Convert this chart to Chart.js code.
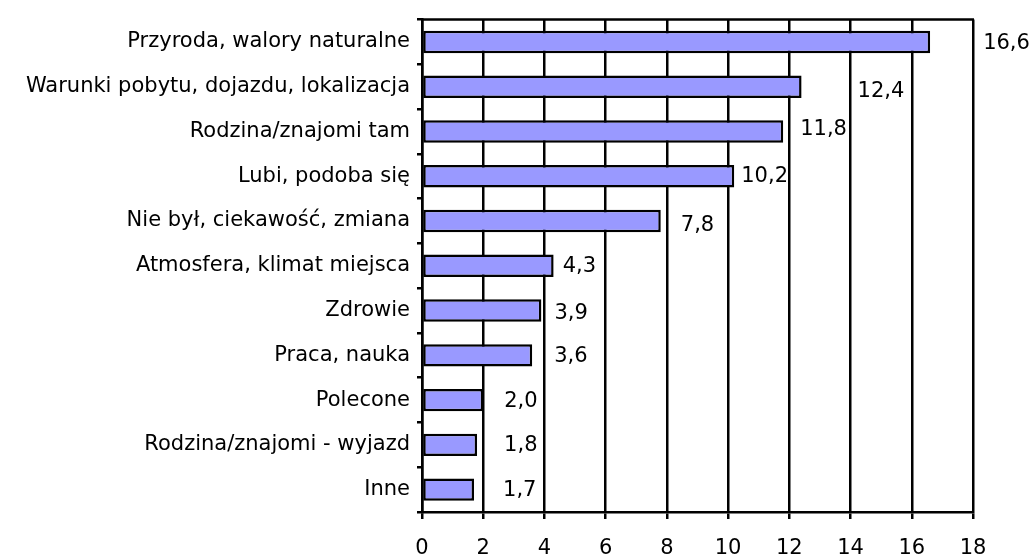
<!DOCTYPE html>
<html>
<head>
<meta charset="utf-8">
<script src="https://cdn.jsdelivr.net/npm/chart.js@4/dist/chart.umd.min.js"></script>
<style>
  html, body { margin: 0; padding: 0; background: #ffffff; }
  #wrap { width: 1029px; height: 556px; position: relative; }
</style>
</head>
<body>
<div id="wrap"><canvas id="c" width="1029" height="556"></canvas></div>
<script>
const categories = [
  "Przyroda, walory naturalne",
  "Warunki pobytu, dojazdu, lokalizacja",
  "Rodzina/znajomi tam",
  "Lubi, podoba się",
  "Nie był, ciekawość, zmiana",
  "Atmosfera, klimat miejsca",
  "Zdrowie",
  "Praca, nauka",
  "Polecone",
  "Rodzina/znajomi - wyjazd",
  "Inne"
];
const values = [16.6, 12.4, 11.8, 10.2, 7.8, 4.3, 3.9, 3.6, 2.0, 1.8, 1.7];
const xMin = 0, xMax = 18, xStep = 2;

// label placement nudges (pixels) — style only, not data
const labelDx = [53, 56, 17, 7, 20, 9, 13, 22, 21, 27, 29];
const labelDy = [2, 5, -2, 0, 5, 1, 3, 1, 1, 1, 1];

const FONT = "'DejaVu Sans', sans-serif";

const frame = {
  id: 'frame',
  afterDraw(chart) {
    const {ctx, chartArea: a} = chart;
    ctx.save();
    ctx.strokeStyle = '#000';
    ctx.lineWidth = 2.5;
    ctx.beginPath();
    ctx.moveTo(a.left - 1, a.top);
    ctx.lineTo(a.right + 1, a.top);
    ctx.stroke();
    ctx.restore();
  }
};

const valueLabels = {
  id: 'valueLabels',
  afterDatasetsDraw(chart) {
    const ctx = chart.ctx;
    const meta = chart.getDatasetMeta(0);
    ctx.save();
    ctx.font = "21px " + FONT;
    ctx.fillStyle = '#000';
    ctx.textAlign = 'left';
    ctx.textBaseline = 'middle';
    meta.data.forEach((bar, i) => {
      const txt = values[i].toFixed(1).replace('.', ',');
      ctx.fillText(txt, bar.x + labelDx[i], bar.y + labelDy[i]);
    });
    ctx.restore();
  }
};

new Chart(document.getElementById('c'), {
  type: 'bar',
  data: {
    labels: categories,
    datasets: [{
      data: values,
      backgroundColor: '#9999FF',
      borderColor: '#000000',
      borderWidth: 2.5,
      borderSkipped: false,
      barPercentage: 0.5,
      categoryPercentage: 1.0
    }]
  },
  options: {
    indexAxis: 'y',
    responsive: false,
    animation: false,
    devicePixelRatio: 1,
    layout: { padding: { left: 0, right: 56, top: 14, bottom: 0 } },
    plugins: { legend: { display: false }, tooltip: { enabled: false } },
    scales: {
      x: {
        min: xMin, max: xMax,
        ticks: { stepSize: xStep, color: '#000', font: { family: FONT, size: 21 }, padding: 17,
                 maxRotation: 0 },
        grid: { color: '#000', lineWidth: 2.5, drawTicks: true, tickLength: 7, tickColor: '#000', tickWidth: 2.5 },
        border: { display: true, color: '#000', width: 2.5 },
        afterFit(scale) { scale.height = 44; }
      },
      y: {
        ticks: { color: '#000', font: { family: FONT, size: 21 }, padding: 7, autoSkip: false },
        grid: { display: true, drawOnChartArea: false, drawTicks: true, tickLength: 5, color: '#000', lineWidth: 2.5, offset: true },
        border: { display: true, color: '#000', width: 2.5 },
        afterFit(scale) { scale.width = 422; }
      }
    }
  },
  plugins: [frame, valueLabels]
});
</script>
</body>
</html>
